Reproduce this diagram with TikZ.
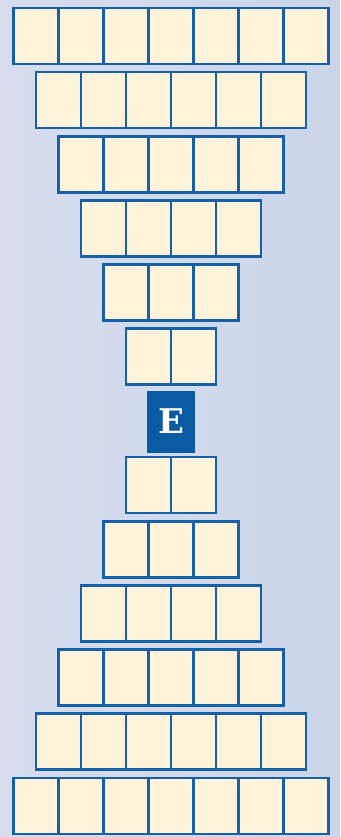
\documentclass[tikz,border=0pt]{standalone}
\usepackage{fontspec}
\newfontfamily\efont{DejaVu Serif}
\usetikzlibrary{calc}
\definecolor{bgL}{HTML}{D7DDEF}
\definecolor{bgR}{HTML}{CBD5E9}
\definecolor{cream}{HTML}{FFF3DB}
\definecolor{edge}{HTML}{1560A6}
\definecolor{ebox}{HTML}{0B5AA2}
\begin{document}
\begin{tikzpicture}[x=1pt,y=-1pt,
  cell/.style={draw=edge,fill=cream,line width=2.6pt,minimum width=45pt,minimum height=56pt,inner sep=0pt,outer sep=0pt},
  ecell/.style={fill=ebox,minimum width=48pt,minimum height=62pt,inner sep=0pt,text=white,font=\efont\bfseries\fontsize{34}{34}\selectfont}]
\shade[left color=bgL,right color=bgR] (0,0) rectangle (340,837);
\useasboundingbox (0,0) rectangle (340,837);
\foreach \r/\n in {0/7,1/6,2/5,3/4,4/3,5/2,7/2,8/3,9/4,10/5,11/6,12/7}{
  \pgfmathsetmacro{\cy}{36+64.15*\r}
  \foreach \k in {1,...,\n}{
    \pgfmathsetmacro{\cx}{171+45*(\k-(\n+1)/2)}
    \node[cell] (c\r-\k) at (\cx,\cy) {};
  }
}
\node[ecell] (E) at (171,421.5) {E};
\end{tikzpicture}
\end{document}
